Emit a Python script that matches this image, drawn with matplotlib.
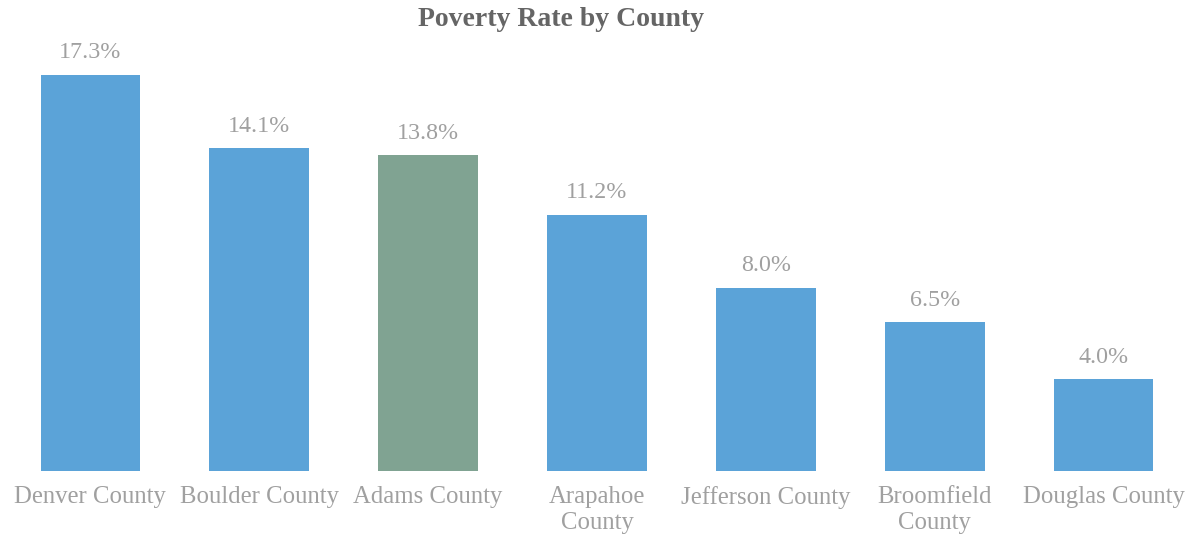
import numpy as np
import matplotlib
matplotlib.use("Agg")
import matplotlib.pyplot as plt

# 数据
counties = ["Denver County", "Boulder County", "Adams County", "Arapahoe\nCounty",
            "Jefferson County", "Broomfield\nCounty", "Douglas County"]
rates = [17.3, 14.1, 13.8, 11.2, 8.0, 6.5, 4.0]
highlight = "Adams County"

plt.rcParams['font.family'] = ['Liberation Serif', 'DejaVu Serif']

fig = plt.figure(figsize=(11.88, 5.37), dpi=100)
ax = fig.add_axes([0.005, 0.123, 0.995, 0.857])

colors = ['#80a392' if c == highlight else '#5ba3d8' for c in counties]
x = np.arange(len(counties))
bars = ax.bar(x, rates, width=0.59, color=colors)

# 数据标签
for xi, v in zip(x, rates):
    ax.text(xi, v + 0.5, f"{v:.1f}%", ha='center', va='bottom',
            fontsize=17.3, color='#a0a0a0')

ax.set_xlim(-0.5, 6.5)
ax.set_ylim(0, 20.1)
ax.set_xticks(x)
ax.set_xticklabels(counties, fontsize=17.8, color='#a0a0a0', linespacing=1.25)
ax.tick_params(axis='x', length=0, pad=11)
ax.set_yticks([])
for s in ax.spines.values():
    s.set_visible(False)

fig.text(0.472, 0.964, "Poverty Rate by County", ha='center', va='center',
         fontsize=20, fontweight='bold', color='#656565')

fig.savefig("out.png", dpi=100)
